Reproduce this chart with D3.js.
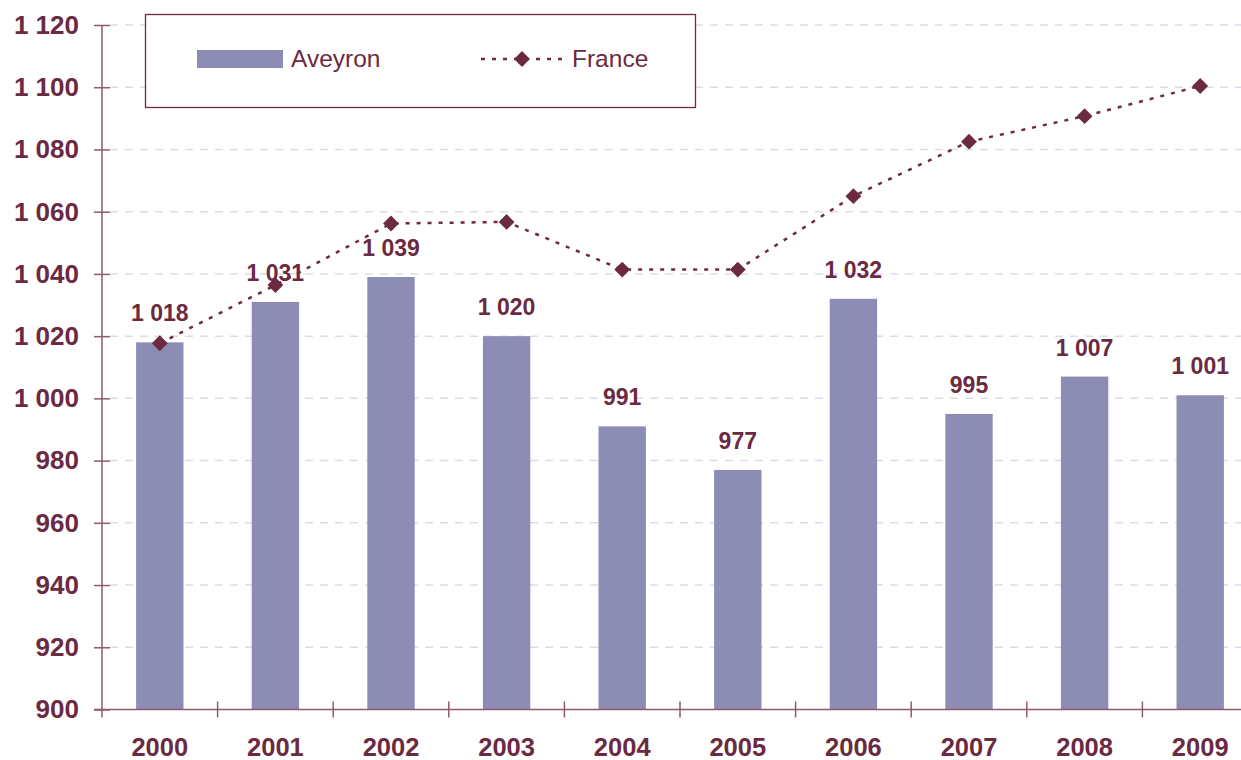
<!DOCTYPE html>
<html>
<head>
<meta charset="utf-8">
<script src="https://cdn.jsdelivr.net/npm/d3@7/dist/d3.min.js"></script>
<style>
  body { margin: 0; background: #fff; }
  svg { display: block; font-family: "Liberation Sans", Arial, sans-serif; }
</style>
</head>
<body>
<div id="chart"></div>
<script>
// data
const years = ["2000", "2001", "2002", "2003", "2004", "2005", "2006", "2007", "2008", "2009"];
const aveyron = [1018, 1031, 1039, 1020, 991, 977, 1032, 995, 1007, 1001];
const france = [1017.7, 1036.4, 1056.2, 1056.7, 1041.4, 1041.4, 1065, 1082.5, 1090.7, 1100.4];
const yTicks = [900, 920, 940, 960, 980, 1000, 1020, 1040, 1060, 1080, 1100, 1120];

function main(){
	var width = 1241,
		height = 760;

	const TEXT = "#6b2a41",
		BAR = "#8c8cb4",
		AXIS = "#8e5a6e",
		GRID = "#dddbea";

	var fmt = function(v){ return d3.format(",")(v).replace(/,/g, " "); };

	var svg = d3.select("#chart").append("svg")
		.attr("width", width)
		.attr("height", height);

	// plot area runs past the right edge of the picture, like the original
	var x = d3.scaleBand().domain(years).range([102, 1258]);
	var y = d3.scaleLinear().domain([900, 1120]).range([709.5, 25]);

	// grid lines
	svg.append("g").selectAll("line")
		.data(yTicks.slice(1))
		.enter().append("line")
		.attr("x1", 110).attr("x2", width)
		.attr("y1", d => y(d)).attr("y2", d => y(d))
		.attr("stroke", GRID)
		.attr("stroke-width", 1.5)
		.attr("stroke-dasharray", "8,7");

	// bars
	var bw = x.bandwidth() * 0.41;
	svg.append("g").selectAll("rect")
		.data(aveyron)
		.enter().append("rect")
		.attr("x", (d, i) => x(years[i]) + x.bandwidth() / 2 - bw / 2)
		.attr("width", bw)
		.attr("y", d => y(d))
		.attr("height", d => y(900) - y(d))
		.attr("fill", BAR);

	// y axis
	var yAxis = d3.axisLeft(y).tickValues(yTicks).tickFormat(fmt)
		.tickSizeInner(8).tickSizeOuter(0).tickPadding(15);
	var gy = svg.append("g").attr("transform", "translate(102,0)").call(yAxis);
	gy.select(".domain").attr("stroke", AXIS).attr("stroke-width", 1.5);
	gy.selectAll(".tick line").attr("stroke", AXIS).attr("stroke-width", 1.5).attr("x2", 8).attr("x1", -8);
	gy.selectAll(".tick text")
		.attr("fill", TEXT).attr("font-size", 26).attr("font-weight", "bold")
		.attr("x", -23);
	gy.select(".domain").attr("d", "M0," + y(1120) + "V" + (y(900) + 8));

	// x axis
	var xAxis = d3.axisBottom(x).tickSize(0).tickPadding(28);
	var gx = svg.append("g").attr("transform", "translate(0," + y(900) + ")").call(xAxis);
	gx.select(".domain").attr("stroke", AXIS).attr("stroke-width", 1.5)
		.attr("d", "M94,0H" + width);
	gx.selectAll(".tick text")
		.attr("fill", TEXT).attr("font-size", 25.5).attr("font-weight", "bold");
	// separators between categories
	svg.append("g").selectAll("line")
		.data(years.slice(1))
		.enter().append("line")
		.attr("x1", d => x(d)).attr("x2", d => x(d))
		.attr("y1", y(900) - 8).attr("y2", y(900) + 8)
		.attr("stroke", AXIS).attr("stroke-width", 1.5);

	// France line
	var line = d3.line()
		.x((d, i) => x(years[i]) + x.bandwidth() / 2)
		.y(d => y(d));
	svg.append("path")
		.datum(france)
		.attr("d", line)
		.attr("fill", "none")
		.attr("stroke", "#6e2a42")
		.attr("stroke-width", 2.5)
		.attr("stroke-dasharray", "4,7");

	var diamond = d3.symbol().type(d3.symbolDiamond2).size(160);
	svg.append("g").selectAll("path")
		.data(france)
		.enter().append("path")
		.attr("d", diamond)
		.attr("transform", (d, i) => "translate(" + (x(years[i]) + x.bandwidth() / 2) + "," + y(d) + ")")
		.attr("fill", "#6b2a41");

	// value labels
	svg.append("g").selectAll("text")
		.data(aveyron)
		.enter().append("text")
		.attr("x", (d, i) => x(years[i]) + x.bandwidth() / 2)
		.attr("y", d => y(d) - 21)
		.attr("text-anchor", "middle")
		.attr("fill", TEXT)
		.attr("font-size", 23)
		.attr("font-weight", "bold")
		.text(fmt);

	// legend
	var lg = svg.append("g");
	lg.append("rect")
		.attr("x", 145.5).attr("y", 14.5).attr("width", 550).attr("height", 93)
		.attr("fill", "#fff").attr("stroke", "#6e2a42").attr("stroke-width", 1.3);
	lg.append("rect")
		.attr("x", 197).attr("y", 50).attr("width", 86).attr("height", 18)
		.attr("fill", BAR);
	lg.append("text")
		.attr("x", 291).attr("y", 67)
		.attr("fill", TEXT).attr("font-size", 24.5)
		.text("Aveyron");
	lg.append("line")
		.attr("x1", 481).attr("x2", 563).attr("y1", 59).attr("y2", 59)
		.attr("stroke", "#6e2a42").attr("stroke-width", 2.5)
		.attr("stroke-dasharray", "4,7");
	lg.append("path")
		.attr("d", diamond)
		.attr("transform", "translate(522,59)")
		.attr("fill", "#6b2a41");
	lg.append("text")
		.attr("x", 572).attr("y", 67)
		.attr("fill", TEXT).attr("font-size", 24.5)
		.text("France");
}

main();
</script>
</body>
</html>
